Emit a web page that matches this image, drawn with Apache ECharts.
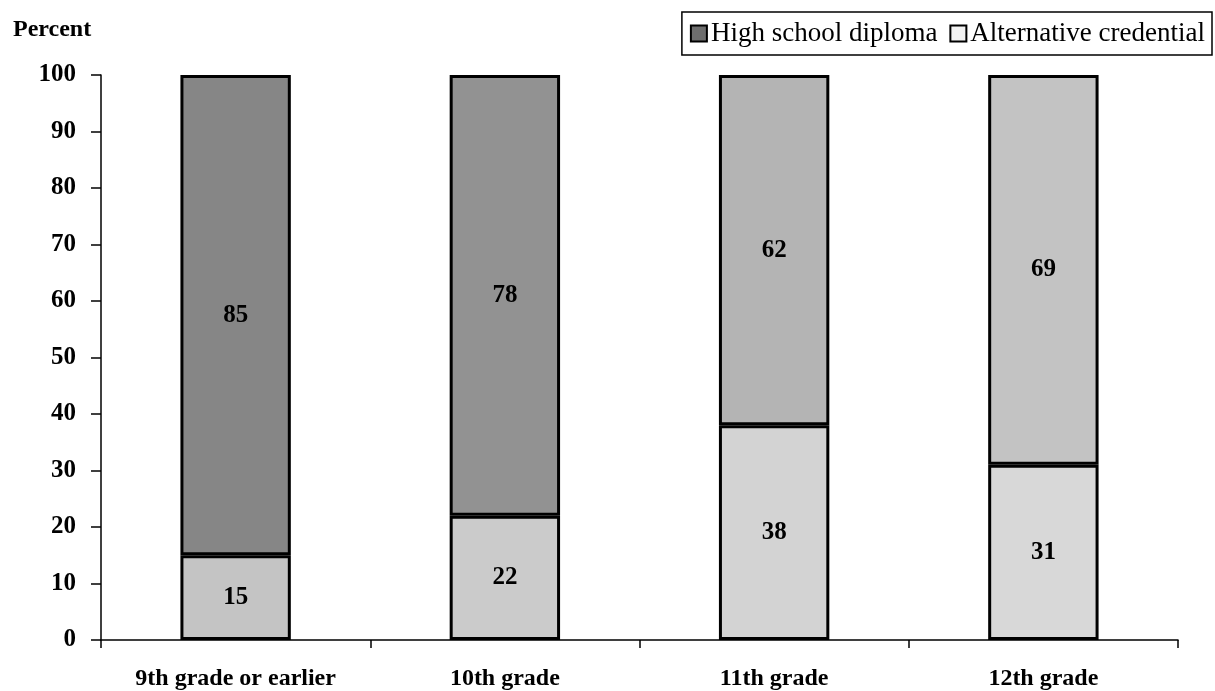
<!DOCTYPE html>
<html><head><meta charset="utf-8">
<script src="https://cdn.jsdelivr.net/npm/echarts@6/dist/echarts.min.js"></script>
<style>html,body{margin:0;padding:0;background:#fff}#c{width:1215px;height:691px}</style>
</head><body><div id="c"></div>
<script>
var categories = ['9th grade or earlier', '10th grade', '11th grade', '12th grade'];
var diploma = [15, 22, 38, 31];
var alternative = [85, 78, 62, 69];
var yTicks = [0, 10, 20, 30, 40, 50, 60, 70, 80, 90, 100];
var diplomaShades = ['#c4c4c4', '#cbcbcb', '#d3d3d3', '#d8d8d8'];
var altShades = ['#868686', '#929292', '#b4b4b4', '#c3c3c3'];

var font = '"Liberation Serif", "Times New Roman", serif';
var chart = echarts.init(document.getElementById('c'));
chart.setOption({
  animation: false,
  textStyle: { fontFamily: font, color: '#000' },
  title: { text: 'Percent', left: 13, top: 18, padding: 0, textStyle: { fontFamily: font, fontWeight: 'bold', fontSize: 24, color: '#000' } },
  legend: {
    right: 3, top: 12, padding: [8, 7, 8, 8], itemGap: 12,
    borderColor: '#000', borderWidth: 1.5,
    itemWidth: 16, itemHeight: 16, icon: 'rect',
    textStyle: { fontFamily: font, fontSize: 27, color: '#000', padding: [0, 0, 0, -1] },
    data: [
      { name: 'High school diploma', itemStyle: { color: '#6e6e6e', borderColor: '#000', borderWidth: 2 } },
      { name: 'Alternative credential', itemStyle: { color: '#f2f2f2', borderColor: '#000', borderWidth: 2 } }
    ]
  },
  grid: { left: 101, right: 37, top: 75, bottom: 50, containLabel: false },
  xAxis: {
    type: 'category', data: categories, boundaryGap: true,
    axisLine: { lineStyle: { color: '#000', width: 1.5 } },
    axisTick: { show: true, length: 8, lineStyle: { color: '#000', width: 1.5 } },
    axisLabel: { margin: 27, fontFamily: font, fontWeight: 'bold', fontSize: 24, color: '#000', interval: 0 }
  },
  yAxis: {
    type: 'value', min: 0, max: 100, interval: 10,
    splitLine: { show: false },
    axisLine: { show: true, lineStyle: { color: '#000', width: 1.5 } },
    axisTick: { show: true, length: 10, lineStyle: { color: '#000', width: 1.5 } },
    axisLabel: { margin: 25, fontFamily: font, fontWeight: 'bold', fontSize: 25, color: '#000',
      formatter: function (v) { return yTicks.indexOf(v) >= 0 ? String(v) : ''; } }
  },
  series: [
    {
      name: 'High school diploma', type: 'bar', stack: 's', barWidth: '41%',
      data: diploma.map(function (v, i) { return { value: v, itemStyle: { color: diplomaShades[i] } }; }),
      itemStyle: { borderColor: '#000', borderWidth: 3 },
      label: { show: true, position: 'inside', fontFamily: font, fontWeight: 'bold', fontSize: 25, color: '#000' }
    },
    {
      name: 'Alternative credential', type: 'bar', stack: 's', barWidth: '41%',
      data: alternative.map(function (v, i) { return { value: v, itemStyle: { color: altShades[i] } }; }),
      itemStyle: { borderColor: '#000', borderWidth: 3 },
      label: { show: true, position: 'inside', fontFamily: font, fontWeight: 'bold', fontSize: 25, color: '#000' }
    }
  ]
});
</script></body></html>
